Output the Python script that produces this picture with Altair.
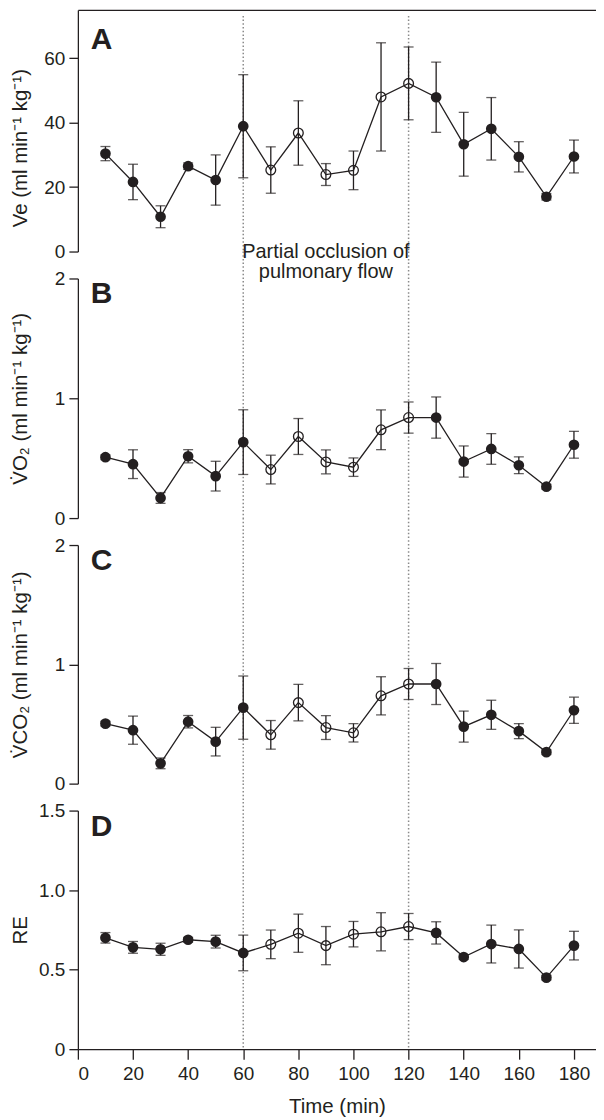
import altair as alt
import pandas as pd

# ---------------- data ----------------
time = [10, 20, 30, 40, 50, 60, 70, 80, 90, 100, 110, 120, 130, 140, 150, 160, 170, 180]
phase = ["control"] * 6 + ["occlusion"] * 6 + ["recovery"] * 6

ve_mean = [30.4, 21.6, 10.8, 26.5, 22.2, 38.9, 25.3, 36.8, 23.9, 25.2, 48.0, 52.2, 47.9, 33.3, 38.1, 29.4, 17.0, 29.5]
ve_err = [2.2, 5.5, 3.4, 1.0, 7.8, 16.0, 7.2, 10.0, 3.4, 6.0, 16.8, 11.3, 10.9, 9.9, 9.7, 4.7, 1.0, 5.1]

vo2_mean = [0.508, 0.45, 0.168, 0.516, 0.35, 0.634, 0.405, 0.681, 0.469, 0.425, 0.737, 0.839, 0.839, 0.472, 0.577, 0.441, 0.262, 0.612]
vo2_err = [0.02, 0.12, 0.045, 0.055, 0.124, 0.27, 0.12, 0.15, 0.1, 0.077, 0.166, 0.13, 0.172, 0.13, 0.128, 0.07, 0.02, 0.112]

vco2_mean = [0.503, 0.448, 0.17, 0.519, 0.352, 0.637, 0.409, 0.679, 0.47, 0.426, 0.736, 0.835, 0.835, 0.478, 0.577, 0.44, 0.264, 0.615]
vco2_err = [0.02, 0.118, 0.045, 0.052, 0.12, 0.265, 0.12, 0.153, 0.1, 0.077, 0.16, 0.13, 0.172, 0.13, 0.122, 0.063, 0.02, 0.11]

re_mean = [0.70, 0.64, 0.628, 0.688, 0.676, 0.605, 0.659, 0.729, 0.651, 0.723, 0.738, 0.771, 0.731, 0.579, 0.661, 0.63, 0.45, 0.651]
re_err = [0.033, 0.037, 0.038, 0.015, 0.04, 0.112, 0.09, 0.12, 0.12, 0.08, 0.12, 0.082, 0.07, 0.015, 0.119, 0.12, 0.015, 0.09]

occlusion_bounds = [60, 120]
occlusion_label = "Partial occlusion of\npulmonary flow"
x_ticks = [0, 20, 40, 60, 80, 100, 120, 140, 160, 180]

FONT = "Liberation Sans"
INK = "#231f20"
W = 519
GAP = 27
LABEL_FS = 19
TITLE_FS = 20.5
xscale = alt.Scale(domain=[0, 188], nice=False, zero=False)


def panel(mean, err, domain, ticks, title, letter, height, top_ext,
          xaxis=None, label_expr=None, title_y=None, letter_y=24, note=False):
    df = pd.DataFrame({"time": time, "mean": mean, "err": err, "phase": phase})
    yscale = alt.Scale(domain=domain, nice=False, zero=False)
    axis_kw = dict(values=ticks, title=title, tickSize=9, labelPadding=4,
                   labelFontSize=LABEL_FS, titleFontSize=TITLE_FS, titleX=-57,
                   titleBaseline="middle", grid=False, labelExpr=label_expr)
    if title_y is not None:
        axis_kw["titleY"] = title_y
    yaxis = alt.Axis(**axis_kw)

    def Y(field):
        return alt.Y(field, type="quantitative", scale=yscale, axis=yaxis, title=title)

    X = alt.X("time:Q", scale=xscale, axis=xaxis, title="Time (min)" if xaxis is not None else None)

    base = alt.Chart(df).transform_calculate(
        lo="datum.mean - datum.err", hi="datum.mean + datum.err"
    )

    guides = alt.Chart(pd.DataFrame({"time": occlusion_bounds})).mark_rule(
        color="#8a8a8a", strokeWidth=1.5, strokeDash=[1.5, 2.2]
    ).encode(x=X, y=alt.value(top_ext), y2=alt.value(height))

    line = base.mark_line(color=INK, strokeWidth=1.3).encode(x=X, y=Y("mean"))
    bars = base.mark_rule(color=INK, strokeWidth=1.3).encode(x=X, y=Y("lo"), y2="hi:Q")
    caps = base.transform_fold(["lo", "hi"], as_=["end", "val"]).mark_tick(
        color=INK, thickness=1.3, size=10, orient="horizontal"
    ).encode(x=X, y=Y("val"))
    filled = base.transform_filter("datum.phase != 'occlusion'").mark_circle(
        color=INK, opacity=1, size=115
    ).encode(x=X, y=Y("mean"))
    hollow = base.transform_filter("datum.phase == 'occlusion'").mark_point(
        shape="circle", filled=False, color=INK, strokeWidth=1.3, size=95, opacity=1
    ).encode(x=X, y=Y("mean"))

    lab = alt.Chart(pd.DataFrame({"letter": [letter]})).mark_text(
        font=FONT, fontSize=30, fontWeight="bold", align="left", baseline="alphabetic", color=INK
    ).encode(x=alt.value(13), y=alt.value(letter_y), text="letter:N")

    layers = [guides, line, bars, caps, hollow, filled, lab]
    if note:
        txt = alt.Chart(pd.DataFrame({"time": [90], "label": [occlusion_label]})).mark_text(
            font=FONT, fontSize=20, align="center", baseline="alphabetic", color=INK,
            lineBreak="\n", lineHeight=21
        ).encode(x=X, y=alt.value(height + 6), text="label:N")
        layers.append(txt)
    return alt.layer(*layers).properties(width=W, height=height)


top_axis = alt.Axis(orient="top", values=x_ticks, labels=False, ticks=False, domain=True,
                    title=None, grid=False)
bottom_axis = alt.Axis(values=x_ticks, tickSize=10, labelPadding=5, labelFontSize=LABEL_FS,
                       titleFontSize=TITLE_FS, titlePadding=13, grid=False)

INT_LABEL = "format(datum.value, 'd')"

pA = panel(ve_mean, ve_err, [0, 75], [0, 20, 40, 60], "Ve (ml min\u207b\u00b9 kg\u207b\u00b9)", "A",
           242, 6, xaxis=top_axis, label_expr=INT_LABEL, title_y=138, letter_y=39, note=True)
pB = panel(vo2_mean, vo2_err, [0, 2], [0, 1, 2], "V\u0307O\u2082 (ml min\u207b\u00b9 kg\u207b\u00b9)", "B",
           240, -GAP, label_expr=INT_LABEL, letter_y=25)
pC = panel(vco2_mean, vco2_err, [0, 2], [0, 1, 2], "V\u0307CO\u2082 (ml min\u207b\u00b9 kg\u207b\u00b9)", "C",
           239, -GAP, label_expr=INT_LABEL, letter_y=25)
pD = panel(re_mean, re_err, [0, 1.5], [0, 0.5, 1.0, 1.5], "RE", "D",
           239, -GAP, xaxis=bottom_axis, letter_y=25,
           label_expr="datum.value == 0 ? '0' : format(datum.value, '.1f')")

chart = alt.vconcat(pA, pB, pC, pD, spacing=GAP, bounds="flush").properties(
    padding={"left": 2, "top": 1, "right": 0, "bottom": 0}
).configure_view(stroke=None).configure_axis(
    domainColor=INK, tickColor=INK, labelColor=INK, titleColor=INK,
    domainWidth=1.3, tickWidth=1.3, labelFont=FONT, titleFont=FONT,
    titleFontWeight="normal"
).configure_text(font=FONT)

chart.save("out.html", embed_options={"renderer": "svg", "actions": False})
